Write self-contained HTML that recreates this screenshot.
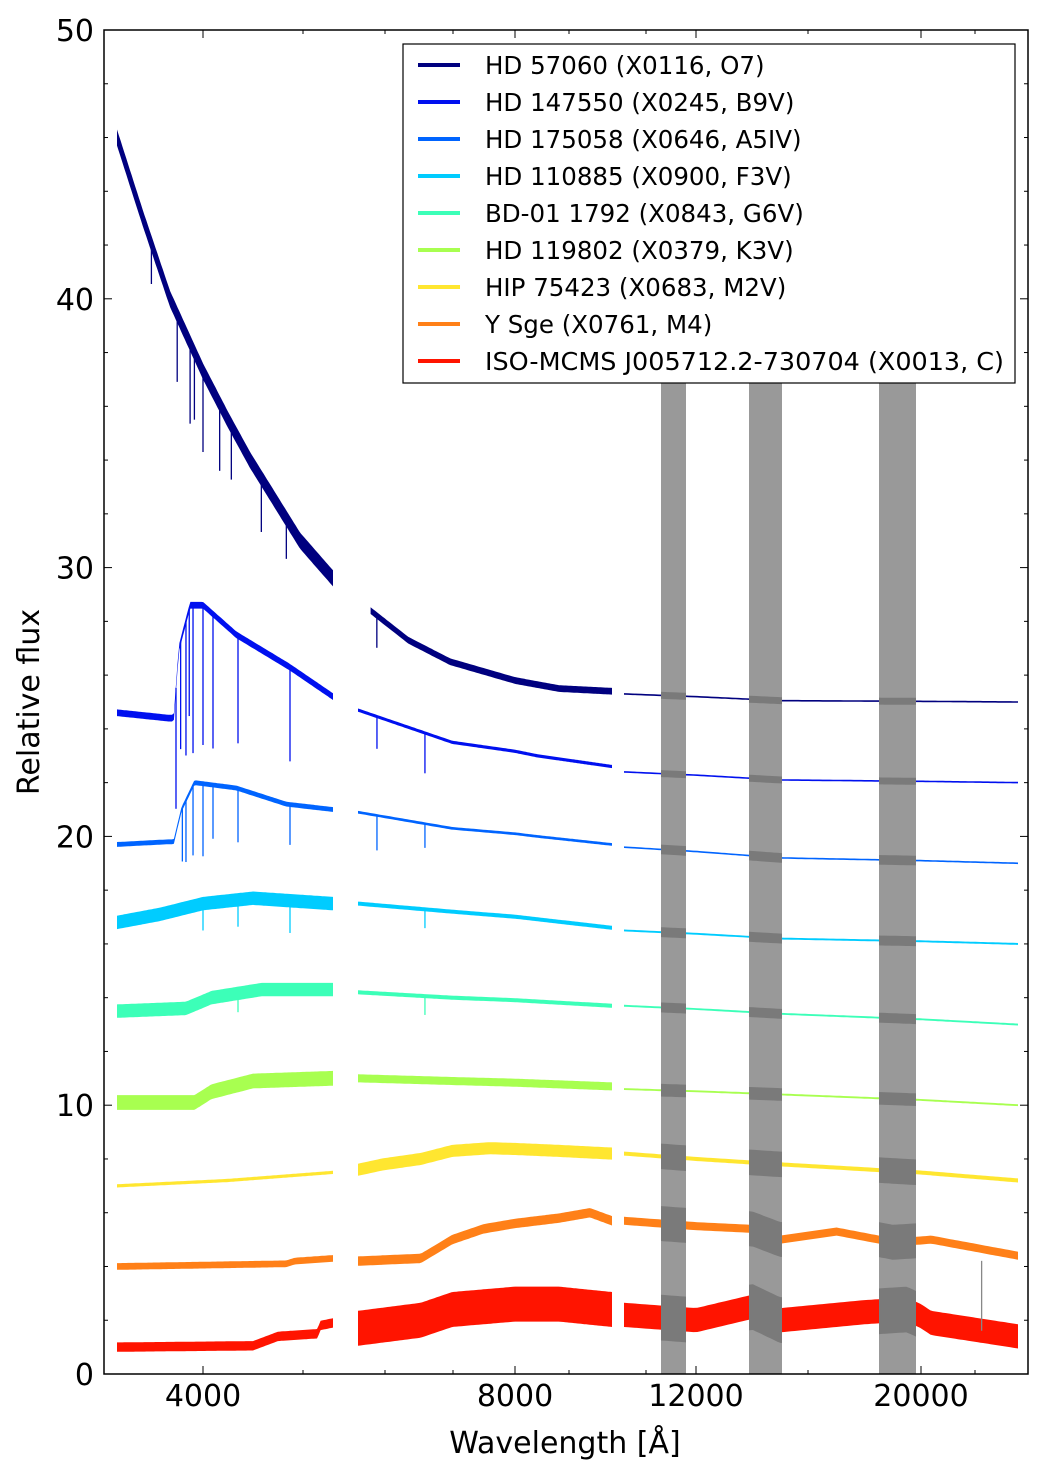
<!DOCTYPE html>
<html><head><meta charset="utf-8"><style>
html,body{margin:0;padding:0;background:#fff;}
svg{display:block;font-family:"DejaVu Sans","Liberation Sans",sans-serif;}
</style></head><body>
<svg id="chart" width="1040" height="1472" viewBox="0 0 1040 1472" xmlns="http://www.w3.org/2000/svg">
<defs>
<clipPath id="plotclip"><rect x="104" y="30" width="924" height="1344"/></clipPath>
<clipPath id="bandclip"><rect x="661" y="383" width="25" height="991"/><rect x="749" y="383" width="33" height="991"/><rect x="879" y="383" width="37" height="991"/></clipPath>
</defs>
<g id="bands"></g>
<g id="series" clip-path="url(#plotclip)"></g>
<g id="greyseries" clip-path="url(#bandclip)"></g>
<g id="axes"></g>
<g id="legend"></g>
</svg>
<script>
const names = ["HD 57060 (X0116, O7)","HD 147550 (X0245, B9V)","HD 175058 (X0646, A5IV)","HD 110885 (X0900, F3V)","BD-01 1792 (X0843, G6V)","HD 119802 (X0379, K3V)","HIP 75423 (X0683, M2V)","Y Sge (X0761, M4)","ISO-MCMS J005712.2-730704 (X0013, C)"];
const colors = ["#00007f","#0010ef","#0064ff","#00ccff","#3cffb8","#a8ff50","#ffe630","#ff8018","#ff1400"];
// continuum samples per star: [wavelength, flux]
const uvb = [
 [[3000,46],[3300,43],[3616,40],[4000,37.3],[4300,35.5],[4565,34],[4805,32.8],[5165,31],[5560,29.6]],
 [[3000,24.6],[3600,24.4],[3660,24.4],[3720,27],[3850,28.6],[4000,28.6],[4400,27.5],[5040,26.3],[5560,25.2]],
 [[3000,19.7],[3600,19.8],[3660,19.8],[3750,21],[3900,22],[4400,21.8],[5000,21.2],[5560,21.0]],
 [[3000,16.8],[3500,17.1],[4000,17.5],[4600,17.7],[5560,17.5]],
 [[3000,13.5],[3800,13.6],[4100,14.0],[4700,14.3],[5560,14.3]],
 [[3000,10.1],[3900,10.1],[4100,10.5],[4600,10.9],[5560,11.0]],
 [[3000,7.0],[4300,7.2],[5560,7.5]],
 [[3000,4.0],[5000,4.1],[5100,4.2],[5560,4.3]],
 [[3000,1.0],[4600,1.05],[4900,1.4],[5380,1.5],[5400,1.8],[5560,1.9]]
];
const vis = [
 [[5700,28.4],[6300,27.3],[6965,26.5],[8000,25.8],[9000,25.5],[10200,25.4]],
 [[5500,24.7],[7000,23.5],[8500,23.0],[10200,22.6]],
 [[5500,20.9],[7000,20.3],[8500,20.0],[10200,19.7]],
 [[5500,17.5],[7000,17.2],[10200,16.6]],
 [[5500,14.2],[7000,14.0],[10200,13.7]],
 [[5500,11.0],[7000,10.9],[10200,10.7]],
 [[5500,7.6],[5900,7.8],[6500,8.0],[7000,8.3],[7600,8.4],[9000,8.3],[10200,8.2]],
 [[5500,4.2],[6500,4.3],[7000,5.0],[7500,5.4],[8000,5.6],[9000,5.8],[9700,6.0],[10200,5.7]],
 [[5500,1.7],[6500,2.0],[7000,2.4],[8000,2.6],[9000,2.6],[10200,2.4]]
];
const nir = [
 [[9940,25.3],[15000,25.05],[24800,25.0]],
 [[9940,22.4],[15000,22.1],[24800,22.0]],
 [[9940,19.6],[15000,19.2],[24800,19.0]],
 [[9940,16.5],[15000,16.2],[24800,16.0]],
 [[9940,13.7],[15000,13.4],[24800,13.0]],
 [[9940,10.6],[15000,10.4],[24800,10.0]],
 [[9940,8.2],[12000,8.0],[15000,7.8],[24800,7.2]],
 [[9940,5.7],[12000,5.5],[14000,5.4],[15000,5.0],[17000,5.3],[19000,4.9],[20500,5.0],[24800,4.4]],
 [[9940,2.2],[12000,2.0],[14000,2.5],[15000,2.0],[18000,2.3],[19500,2.4],[20500,1.9],[24800,1.4]]
];
// noise thickness (flux units) per star per arm
const noise = [[0.6,0.25,0.05],[0.25,0.12,0.05],[0.18,0.1,0.05],[0.5,0.15,0.07],[0.5,0.15,0.07],[0.55,0.3,0.07],[0.12,0.45,0.15],[0.25,0.35,0.3],[0.35,1.3,0.9]];
// extra noise inside telluric bands (flux units) per star
const telluric = [0.2,0.2,0.3,0.3,0.3,0.4,0.8,1.0,0.8];
// absorption lines: [star, wavelength, depth]
const lines = [
 [0,3400,1.5],[0,3700,2.5],[0,3850,3],[0,3900,2.5],[0,4000,3],[0,4200,2.5],[0,4340,2],[0,4700,2],[0,5000,1.5],[0,5800,1.2],
 [1,3686,4.5],[1,3740,4],[1,3802,5],[1,3840,4],[1,3884,5.5],[1,4000,5.2],[1,4120,5],[1,4420,4],[1,5044,3.5],[1,5802,1.2],[1,6566,1.5],
 [2,3760,2],[2,3802,2.3],[2,3884,2.6],[2,4000,2.7],[2,4120,2],[2,4420,2],[2,5044,1.5],[2,5802,1.3],[2,6566,0.9],
 [3,4000,1],[3,4420,1],[3,5044,1.2],[3,6566,0.7],
 [4,4420,0.7],[4,6566,0.7],
 [8,23000,-2.6]
];
const xKnots = [[[3000,117],[4000,203],[5560,333]],[[5500,358],[8000,515],[10200,612]],[[9940,624],[12000,696],[20000,921],[24800,1018]]];
const yTicks = [0,10,20,30,40,50];
const xTicks = [["4000",0,4000],["8000",1,8000],["12000",2,12000],["20000",2,20000]];

const NS="http://www.w3.org/2000/svg";
function el(t,a,p){const e=document.createElementNS(NS,t);for(const k in a)e.setAttribute(k,a[k]);if(p)p.appendChild(e);return e;}
function X(arm,w){const k=xKnots[arm];for(let i=0;i<k.length-1;i++){if(w<=k[i+1][0]||i==k.length-2){return k[i][1]+(w-k[i][0])*(k[i+1][1]-k[i][1])/(k[i+1][0]-k[i][0]);}}}
function Y(v){return 1374-v*26.88;}
function flux(arm,s,w){const p=[uvb,vis,nir][arm][s];if(w<=p[0][0])return p[0][1];for(let i=0;i<p.length-1;i++)if(w<=p[i+1][0])return p[i][1]+(w-p[i][0])*(p[i+1][1]-p[i][1])/(p[i+1][0]-p[i][0]);return p[p.length-1][1];}
function band(arm,s,halfPx){const p=[uvb,vis,nir][arm][s], w0=p[0][0], w1=p[p.length-1][0], N=120;const up=[],dn=[];
 for(let i=0;i<=N;i++){const w=w0+(w1-w0)*i/N;const x=X(arm,w).toFixed(1);const y=Y(flux(arm,s,w));
  up.push(x+','+(y-halfPx).toFixed(1));dn.unshift(x+','+(y+halfPx).toFixed(1));}
 return up.concat(dn).join(' ');}

const bands=document.getElementById('bands');
[[661,25],[749,33],[879,37]].forEach((b,i)=>{const r=el('rect',{x:b[0],y:383,width:b[1],height:991,fill:'#999'},bands);

});

const ser=document.getElementById('series'), gser=document.getElementById('greyseries');
for(let s=0;s<9;s++){
 [uvb,vis,nir].forEach((arr,arm)=>{
  const half=Math.max(0.8,noise[s][arm]*26.88/2);
  const pg=el('polygon',{points:band(arm,s,half),fill:colors[s],stroke:'none'},ser);
  
  
  if(arm==2){const g=el('polygon',{points:band(arm,s,half+telluric[s]*26.88/2),fill:'#7a7a7a',stroke:'none'},gser);
   
   }
 });
}
lines.forEach(l=>{const s=l[0],w=l[1],d=l[2];const arm=w>10200?2:(w>5560?1:0);
 const x=X(arm,w),f=flux(arm,s,w);
 const ln=el('line',{x1:x,x2:x,y1:Y(f),y2:Y(f-d),stroke:d<0?'#888':colors[s],'stroke-width':1.3},ser);
 
 });

const ax=document.getElementById('axes');
const frame=el('rect',{x:104,y:30,width:924,height:1344,fill:'none',stroke:'#000','stroke-width':1.5},ax);

for(let v=0;v<=50;v+=2){const y=Y(v);const L=v%10==0?8:4;
 el('line',{x1:104,x2:104+L,y1:y,y2:y,stroke:'#000','stroke-width':1},ax);
 el('line',{x1:1028,x2:1028-L,y1:y,y2:y,stroke:'#000','stroke-width':1},ax);}
yTicks.forEach(v=>{const t=el('text',{x:94,y:Y(v)+11,'text-anchor':'end','font-size':30},ax);t.textContent=v;
 });
xTicks.forEach(tk=>{const x=X(tk[1],tk[2]);
 el('line',{x1:x,x2:x,y1:1374,y2:1366,stroke:'#000'},ax);el('line',{x1:x,x2:x,y1:30,y2:38,stroke:'#000'},ax);
 const t=el('text',{x:x,y:1406,'text-anchor':'middle','font-size':30},ax);t.textContent=tk[0];
 });
[303,385,453,569,646,808,975].forEach(x=>{el('line',{x1:x,x2:x,y1:1374,y2:1370,stroke:'#000'},ax);el('line',{x1:x,x2:x,y1:30,y2:34,stroke:'#000'},ax);});
const xl=el('text',{x:565,y:1453,'text-anchor':'middle','font-size':30},ax);xl.textContent='Wavelength [Å]';

const yl=el('text',{x:0,y:0,'text-anchor':'middle','font-size':30,transform:'translate(39,702) rotate(-90)'},ax);yl.textContent='Relative flux';


const lg=document.getElementById('legend');
const lb=el('rect',{x:403,y:44,width:612,height:339,fill:'#fff',stroke:'#000','stroke-width':1.2},lg);

names.forEach((n,i)=>{const y=65+i*37;
 const g=el('g',{},lg);
 
 
 el('line',{x1:418,x2:460,y1:y,y2:y,stroke:colors[i],'stroke-width':4},g);
 const t=el('text',{x:485,y:y+9,'font-size':24.5},g);t.textContent=n;
 if(i==8){t.setAttribute('textLength',519);t.setAttribute('lengthAdjust','spacingAndGlyphs');}});
</script>
</body></html>
